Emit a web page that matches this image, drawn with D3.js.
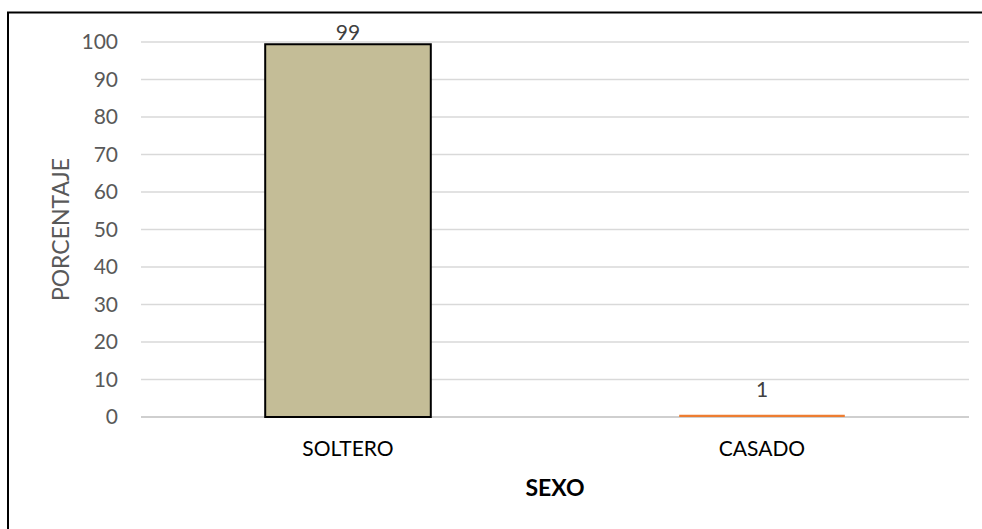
<!DOCTYPE html>
<html>
<head>
<meta charset="utf-8">
<script src="https://cdn.jsdelivr.net/npm/d3@7"></script>
<style>
  html, body { margin: 0; background: #fff; overflow: hidden; }
  svg { display: block; }
  text { font-family: Lato, "Open Sans", sans-serif; }
</style>
</head>
<body>
<svg id="chart"></svg>
<script>
// Datos del grafico
var categories = ["SOLTERO", "CASADO"];
var values = [99.4, 0.6];
var barColors = ["#C4BD97", "#ED7D31"];
var barStrokes = ["#000000", "none"];
var yTicks = [0, 10, 20, 30, 40, 50, 60, 70, 80, 90, 100];

var W = 982, H = 529;
var margin = { top: 42, right: 13, bottom: 112, left: 141 },
  width = W - margin.left - margin.right,
  height = H - margin.top - margin.bottom;

var root = d3.select("#chart")
  .attr("width", W)
  .attr("height", H);

// marco del grafico (solo se ven los bordes superior e izquierdo)
root.append("path")
  .attr("d", "M8," + H + "V12.5H" + W)
  .style("fill", "none")
  .style("stroke", "#000")
  .style("stroke-width", 2);

var svg = root.append("g")
  .attr("transform", "translate(" + margin.left + "," + margin.top + ")");

var y = d3.scaleLinear().domain([0, 100]).range([height, 0]);
var x = d3.scaleBand()
  .domain(categories)
  .range([0, width])
  .paddingInner(0.6)
  .paddingOuter(0.3);

// lineas de cuadricula
svg.selectAll(".grid")
  .data(yTicks).enter()
  .append("line")
  .attr("x1", 0).attr("x2", width)
  .attr("y1", function(d) { return y(d); })
  .attr("y2", function(d) { return y(d); })
  .style("stroke", function(d) { return d === 0 ? "#bfbfbf" : "#d9d9d9"; })
  .style("stroke-width", 1.5);

// eje Y
var yAxis = svg.append("g")
  .call(d3.axisLeft(y).tickValues(yTicks).tickSize(0).tickPadding(23));
yAxis.select(".domain").remove();
yAxis.selectAll("text")
  .style("font-size", "21px")
  .style("fill", "#595959");

// eje X
var xAxis = svg.append("g")
  .attr("transform", "translate(0," + height + ")")
  .call(d3.axisBottom(x).tickSize(0).tickPadding(24));
xAxis.select(".domain").remove();
xAxis.selectAll("text")
  .style("font-size", "21px")
  .style("fill", "#000");

// barras
svg.selectAll(".bar")
  .data(values).enter()
  .append("rect")
  .attr("x", function(d, i) { return x(categories[i]); })
  .attr("width", x.bandwidth())
  .attr("y", function(d) { return y(d); })
  .attr("height", function(d) { return y(0) - y(d); })
  .style("fill", function(d, i) { return barColors[i]; })
  .style("stroke", function(d, i) { return barStrokes[i]; })
  .style("stroke-width", 2);

// etiquetas de datos
svg.selectAll(".label")
  .data(values).enter()
  .append("text")
  .attr("x", function(d, i) { return x(categories[i]) + x.bandwidth() / 2; })
  .attr("y", function(d) { return Math.min(y(d) - 4, y(0) - 20); })
  .style("text-anchor", "middle")
  .style("font-size", "21px")
  .style("fill", "#404040")
  .text(function(d) { return d3.format(".0f")(d); });

// titulos de ejes
svg.append("text")
  .attr("transform", "translate(-72," + (height / 2) + ") rotate(-90)")
  .style("text-anchor", "middle")
  .style("font-size", "23px")
  .style("fill", "#595959")
  .text("PORCENTAJE");

svg.append("text")
  .attr("x", width / 2)
  .attr("y", height + 79)
  .style("text-anchor", "middle")
  .style("font-size", "23px")
  .style("font-weight", "bold")
  .style("fill", "#000")
  .text("SEXO");
</script>
</body>
</html>
